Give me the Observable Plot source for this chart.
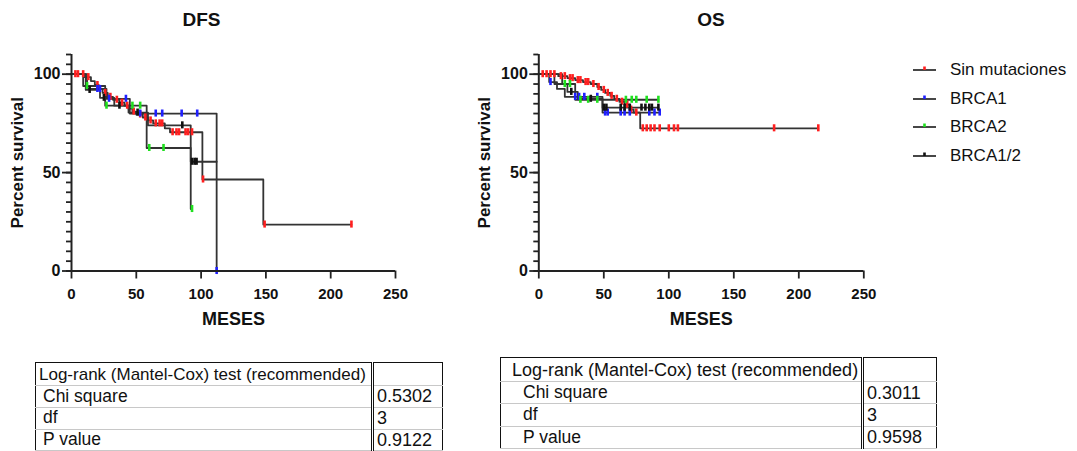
<!DOCTYPE html>
<html>
<head>
<meta charset="utf-8">
<script src="https://cdn.jsdelivr.net/npm/d3@7"></script>
<script src="https://cdn.jsdelivr.net/npm/@observablehq/plot@0.6"></script>
<style>
html,body{margin:0;padding:0;background:#fff;}
#root{position:relative;width:1077px;height:451px;overflow:hidden;font-family:"Liberation Sans",Arial,Helvetica,sans-serif;color:#111;}
.chart{position:absolute;top:0;}
.title{position:absolute;font-weight:bold;font-size:19px;transform:translate(-50%,-50%);white-space:nowrap;}
.lrow{position:absolute;display:flex;align-items:center;white-space:nowrap;font-size:17px;transform:translateY(-50%);}
.lrow svg{margin-right:14px;}
.stats{position:absolute;border-collapse:collapse;font-size:17.5px;table-layout:fixed;}
.stats td{box-sizing:border-box;padding:0;white-space:nowrap;overflow:hidden;border-bottom:1px solid #c8c8c8;line-height:1;}
.stats td.val{padding-left:3px;border-left:3px double #111;font-size:18px;}
</style>
</head>
<body>
<div id="root"></div>
<script>
// ---------- data ----------
const groups = ["Sin mutaciones", "BRCA1", "BRCA2", "BRCA1/2"];
const groupColors = ["#ff1f1f", "#1f1fff", "#1fe01f", "#111111"];

const xTicks = [0, 50, 100, 150, 200, 250];
const yTicks = [0, 50, 100];
const yMinorTicks = [0, 5, 10, 15, 20, 25, 30, 35, 40, 45, 50, 55, 60, 65, 70, 75, 80, 85, 90, 95, 100, 105, 110];

// DFS — Kaplan–Meier steps [month, % survival]
const dfsSinSteps = [[0,100],[10,98.5],[15,96.5],[18,94.5],[21,92.5],[24,90.5],[28,88.5],[32,87],[37,85.5],[41,84],[44,82.5],[47,81],[50,79.5],[55,78],[59,76.5],[63,75],[72,72.5],[76,70.5],[101,46.5],[148,23.6],[216,23.6]];
const dfsBrca1Steps = [[0,100],[12,92.5],[27,87.5],[45,80],[112,0]];
const dfsBrca2Steps = [[0,100],[9,94],[26,84],[58,62.5],[92,31.5],[93,31.5]];
const dfsBrca12Steps = [[0,100],[11,92],[22,88],[33,84],[44,80.5],[59,74],[92,55.5],[112,55.5]];
// DFS — censored observations
const dfsSinCens = [[3,100],[5,100],[9,100],[13,98.5],[20,94.5],[26,90.5],[30,88.5],[35,87],[39,85.5],[43,84],[48,81],[53,79.5],[57,78],[61,76.5],[65,75],[68,75],[70,75],[78,70.5],[81,70.5],[83,70.5],[88,70.5],[90,70.5],[93,70.5],[101.5,46.5],[149,23.6],[216,23.6]];
const dfsBrca1Cens = [[20,92.5],[22,92.5],[29,87.5],[42,87.5],[53,80],[65,80],[70,80],[85,80],[97,80],[112,0]];
const dfsBrca2Cens = [[12,94],[27,84],[47,84],[53,84],[60,62.5],[71,62.5],[93,31.5]];
const dfsBrca12Cens = [[14,92],[25,88],[37,84],[51,80.5],[85.5,74],[93,55.5],[95,55.5],[96.5,55.5]];

// OS — Kaplan–Meier steps
const osSinSteps = [[0,100],[15,99],[22,98],[28,97],[34,96],[40,95],[45,93.5],[48,92],[51,90.5],[55,89],[58,87.5],[62,86],[66,84.5],[70,82],[73,80.5],[78,72.5],[215,72.5]];
const osBrca1Steps = [[0,100],[8,96],[14,92.5],[20,88.5],[49,80.5],[93,80.5]];
const osBrca2Steps = [[0,100],[18,95],[28,87],[92,87]];
const osBrca12Steps = [[0,100],[12,95],[22,91],[30,87.5],[49,83],[92,83]];
// OS — censored observations
const osSinCens = [[3,100],[6,100],[9,100],[12,100],[17,99],[20,99],[24,98],[26,98],[30,97],[32,97],[36,96],[38,96],[42,95],[46,93.5],[50,92],[53,90.5],[56,89],[60,87.5],[64,86],[68,84.5],[71,82],[75,80.5],[80,72.5],[83,72.5],[86,72.5],[89,72.5],[93,72.5],[100,72.5],[104,72.5],[107,72.5],[181,72.5],[215,72.5]];
const osBrca1Cens = [[9,96],[28,88.5],[31,88.5],[35,88.5],[45,88.5],[51,80.5],[53,80.5],[63,80.5],[66,80.5],[70,80.5],[85,80.5],[89,80.5],[93,80.5]];
const osBrca2Cens = [[20,95],[24,95],[32,87],[38,87],[45,87],[67,87],[71.5,87],[75,87],[83,87],[92,87]];
const osBrca12Cens = [[25,91],[40,87.5],[50,83],[52,83],[63,83],[66,83],[70,83],[79,83],[82,83],[85,83],[87,83],[92,83]];

// Log-rank tables
const testTitle = "Log-rank (Mantel-Cox) test (recommended)";
const statLabels = ["Chi square", "df", "P value"];
const dfsStats = ["0.5302", "3", "0.9122"];
const osStats = ["0.3011", "3", "0.9598"];

const chartTitles = ["DFS", "OS"];
const xLabel = "MESES";
const yLabel = "Percent survival";

// ---------- drawing ----------
const FONT = '"Liberation Sans", Arial, Helvetica, sans-serif';
const root = document.getElementById("root");

function rows(list) {
  return groups.flatMap((g, i) => list[i].map(([t, s]) => ({t, s, g})));
}

function kmChart(steps, cens, {left, width, marginLeft, marginRight}) {
  const svg = Plot.plot({
    width, height: 340,
    marginLeft, marginRight, marginTop: 54, marginBottom: 69.5,
    style: {fontFamily: FONT, background: "transparent", overflow: "visible", color: "#111"},
    x: {domain: [0, 250]},
    y: {domain: [0, 110]},
    color: {domain: groups, range: groupColors},
    marks: [
      Plot.line(rows(steps), {x: "t", y: "s", z: "g", curve: "step-after", stroke: "#333", strokeWidth: 1.8}),
      Plot.ruleX(rows(cens), {x: "t", y1: d => d.s - 1.8, y2: d => d.s + 1.8, stroke: "g", strokeWidth: 2.6}),
      Plot.axisY(yMinorTicks, {tickSize: 5, tickFormat: () => "", label: null, strokeWidth: 1.8, stroke: "#222"}),
      Plot.axisY(yTicks, {tickSize: 9, tickPadding: 2, fontSize: 16, fontWeight: "bold", label: null, strokeWidth: 1.8, stroke: "#222"}),
      Plot.axisX(xTicks, {tickSize: 8, tickPadding: 9, fontSize: 15, fontWeight: "bold", label: null, strokeWidth: 1.8, stroke: "#222"}),
      Plot.ruleX([0], {stroke: "#222", strokeWidth: 2}),
      Plot.ruleY([0], {stroke: "#222", strokeWidth: 2}),
      Plot.text([xLabel], {text: d => d, frameAnchor: "bottom", dy: 54, fontSize: 18, fontWeight: "bold"}),
      Plot.text([yLabel], {text: d => d, frameAnchor: "left", textAnchor: "middle", dx: -54, rotate: -90, fontSize: 17, fontWeight: "bold"})
    ]
  });
  svg.classList.add("chart");
  svg.style.left = left + "px";
  root.appendChild(svg);
}

kmChart([dfsSinSteps, dfsBrca1Steps, dfsBrca2Steps, dfsBrca12Steps],
        [dfsSinCens, dfsBrca1Cens, dfsBrca2Cens, dfsBrca12Cens],
        {left: 0, width: 420, marginLeft: 71, marginRight: 25});
kmChart([osSinSteps, osBrca1Steps, osBrca2Steps, osBrca12Steps],
        [osSinCens, osBrca1Cens, osBrca2Cens, osBrca12Cens],
        {left: 470, width: 420, marginLeft: 68.3, marginRight: 26.7});

// titles
[[chartTitles[0], 201.5, 19.5], [chartTitles[1], 711, 19.5]].forEach(([txt, x, y]) => {
  const d = document.createElement("div");
  d.className = "title"; d.textContent = txt;
  d.style.left = x + "px"; d.style.top = y + "px";
  root.appendChild(d);
});

// legend
const legendY = [70, 98.7, 127.3, 156];
groups.forEach((g, i) => {
  const row = document.createElement("div");
  row.className = "lrow";
  row.style.left = "913px"; row.style.top = legendY[i] + "px";
  const ns = "http://www.w3.org/2000/svg";
  const s = document.createElementNS(ns, "svg");
  s.setAttribute("width", 23); s.setAttribute("height", 10);
  const l = document.createElementNS(ns, "line");
  l.setAttribute("x1", 0); l.setAttribute("x2", 23); l.setAttribute("y1", 5); l.setAttribute("y2", 5);
  l.setAttribute("stroke", "#333"); l.setAttribute("stroke-width", 1.8);
  const t = document.createElementNS(ns, "line");
  t.setAttribute("x1", 11.5); t.setAttribute("x2", 11.5); t.setAttribute("y1", 1.5); t.setAttribute("y2", 5);
  t.setAttribute("stroke", groupColors[i]); t.setAttribute("stroke-width", 2.6);
  s.appendChild(l); s.appendChild(t);
  row.appendChild(s);
  const span = document.createElement("span"); span.textContent = g;
  row.appendChild(span);
  root.appendChild(row);
});

// log-rank tables
function statsTable(values, {left, top, w1, w2, headH, rowH, headFont, headPad, labPad}) {
  const tb = document.createElement("table");
  tb.className = "stats";
  tb.style.left = left + "px"; tb.style.top = top + "px";
  tb.style.width = (w1 + w2) + "px";
  tb.style.border = "1.5px solid #111";
  const mk = (a, b, h, head) => {
    const tr = document.createElement("tr");
    tr.style.height = h + "px";
    const c1 = document.createElement("td"); c1.className = "lab"; c1.textContent = a; c1.style.width = w1 + "px";
    c1.style.paddingLeft = (head ? headPad : labPad) + "px";
    if (head) c1.style.fontSize = headFont + "px";
    const c2 = document.createElement("td"); c2.className = "val"; c2.textContent = b; c2.style.width = w2 + "px";
    tr.appendChild(c1); tr.appendChild(c2); tb.appendChild(tr);
  };
  mk(testTitle, "", headH, true);
  statLabels.forEach((lab, i) => mk(lab, values[i], rowH, false));
  root.appendChild(tb);
}
statsTable(dfsStats, {left: 35, top: 362, w1: 337, w2: 70, headH: 23, rowH: 21.8, headFont: 17, headPad: 3, labPad: 7});
statsTable(osStats, {left: 500, top: 357, w1: 362, w2: 74, headH: 24, rowH: 22.4, headFont: 18, headPad: 11, labPad: 22});
</script>
</body>
</html>
